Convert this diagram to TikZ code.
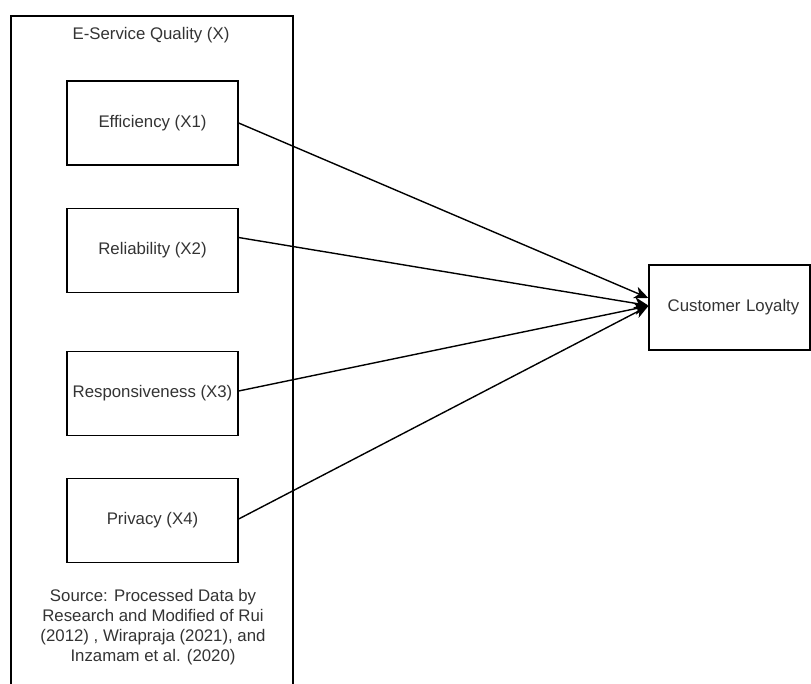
\documentclass[tikz,border=0pt]{standalone}
\usepackage{fontspec}
\setmainfont{Liberation Sans}
\usetikzlibrary{arrows.meta}
\definecolor{txt}{HTML}{333333}
\begin{document}
\begin{tikzpicture}[x=1pt,y=-1pt,
  every node/.style={font=\fontsize{16.8}{20}\selectfont, text=txt},
  vbox/.style={draw=black, line width=1.3pt, minimum width=171pt, minimum height=84pt, inner sep=0pt},
  link/.style={draw=black, line width=1.4pt, -{Stealth[length=14pt,width=12pt,inset=4pt]}}]
\useasboundingbox (0,0) rectangle (811,684);
% outer container
\draw[line width=1.3pt] (11,690) -- (11,16) -- (293,16) -- (293,690);
\node (title) at (151,35) {E-Service Quality (X)};
\node[vbox] (eff) at (152.5,123) {Efficiency (X1)};
\node[vbox] (rel) at (152.5,250.5) {Reliability (X2)};
\node[vbox] (resp) at (152.5,393.5) {Responsiveness (X3)};
\node[vbox] (priv) at (152.5,520.5) {Privacy (X4)};
\node[draw=black, line width=1.3pt, minimum width=161pt, minimum height=85pt, inner sep=0pt, text width=161pt, align=center] (cl) at (729.5,307.5) {\hspace*{8pt}Customer Loyalty};
\node[align=center, inner sep=0pt] (src) at (153,627) {Source: Processed Data by\\Research and Modified of Rui\\(2012) , Wirapraja (2021), and\\Inzamam et al. (2020)};
\draw[link] (eff.east) -- ([yshift=9.5pt]cl.west);
\draw[link] ([yshift=13pt]rel.east) -- ([yshift=2pt]cl.west);
\draw[link] ([yshift=2.5pt]resp.east) -- ([yshift=1.5pt]cl.west);
\draw[link] ([yshift=1.5pt]priv.east) -- ([yshift=1.5pt]cl.west);
\end{tikzpicture}
\end{document}
